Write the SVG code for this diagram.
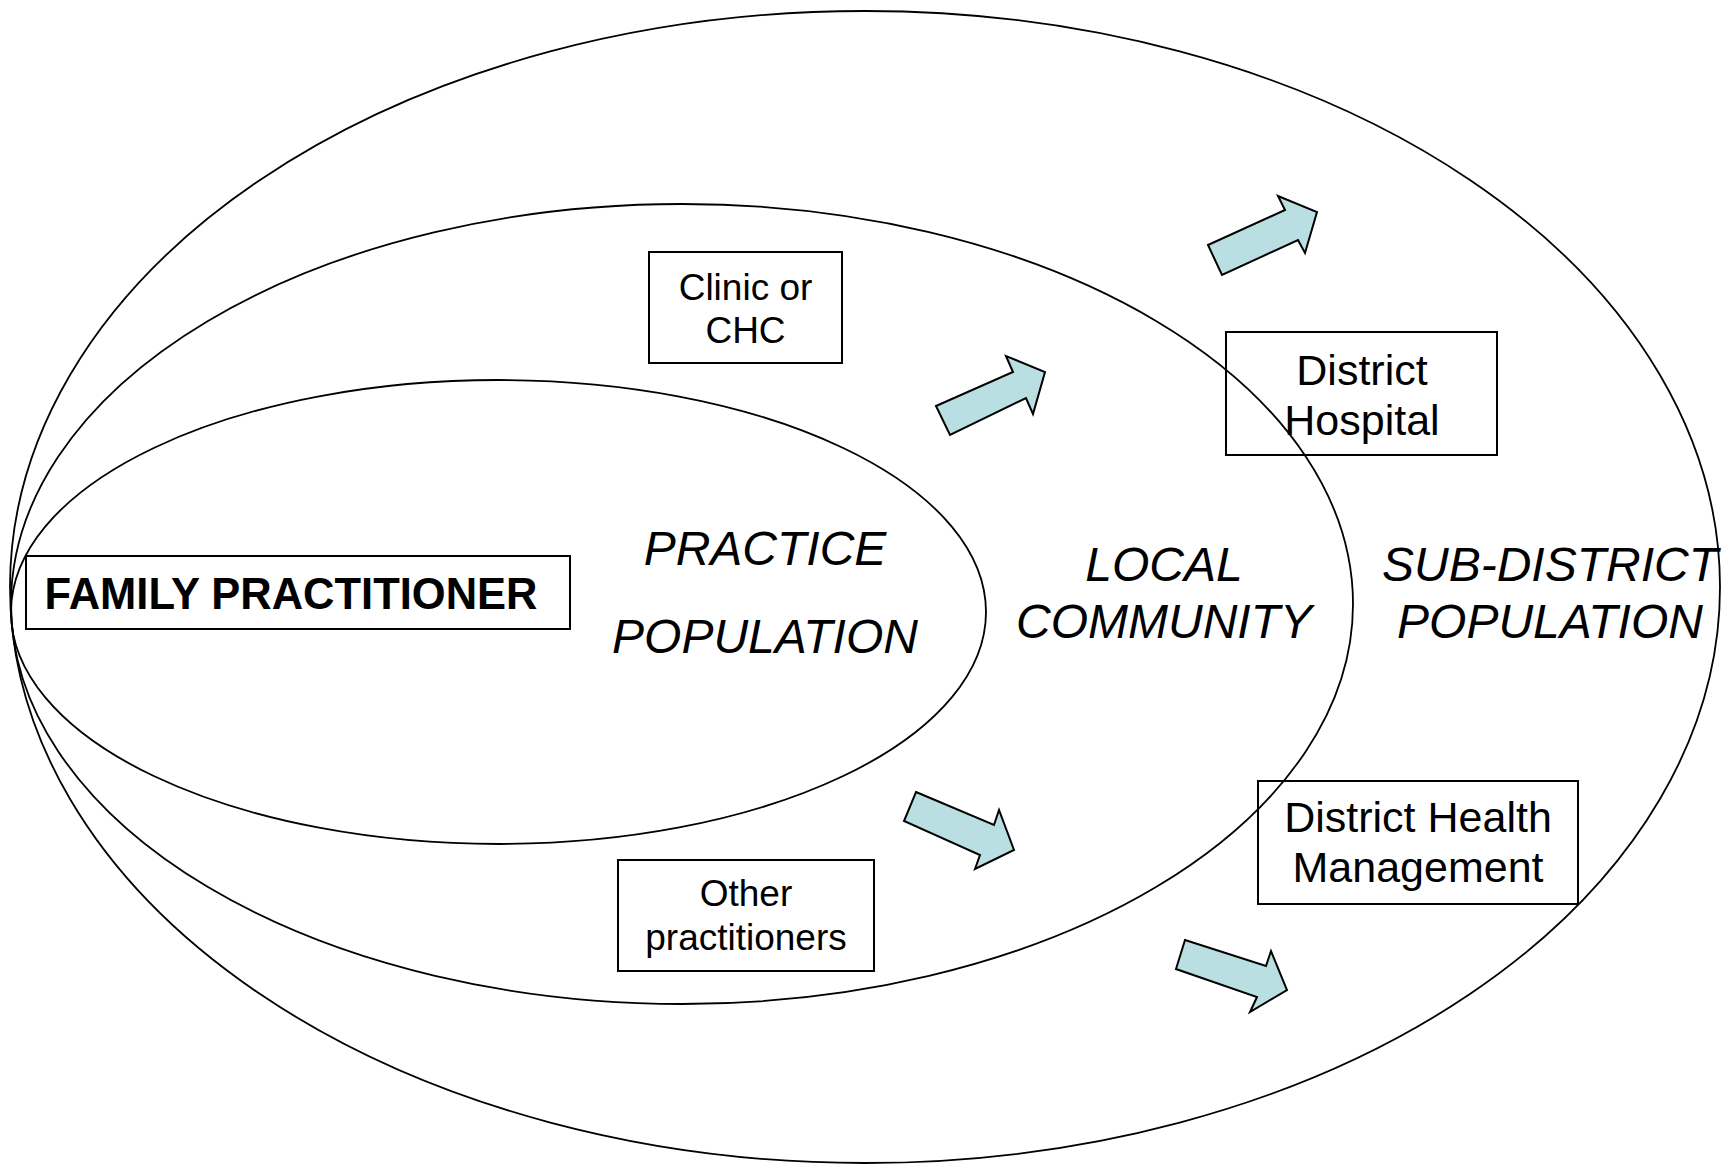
<svg xmlns="http://www.w3.org/2000/svg" width="1729" height="1168" viewBox="0 0 1729 1168">
<style>
.ring{fill:none;stroke:#000;stroke-width:1.8}
.box{fill:none;stroke:#000;stroke-width:2}
.t{font-family:"Liberation Sans",Arial,sans-serif;fill:#000;text-anchor:middle}
.big{font-size:48px;font-style:italic}
.bx{font-size:37px}
.bx2{font-size:43px}
.arr{fill:#B9DFE2;stroke:#000;stroke-width:2;stroke-linejoin:miter}
</style>
<rect width="1729" height="1168" fill="#fff"/>
<g id="sub-district-population">
<ellipse class="ring" cx="865" cy="587" rx="855" ry="576"/>
<text class="t big" x="1550" y="581">SUB-DISTRICT</text>
<text class="t big" x="1550" y="638">POPULATION</text>
</g>
<g id="local-community">
<ellipse class="ring" cx="682" cy="604" rx="671" ry="400"/>
<text class="t big" x="1164" y="581">LOCAL</text>
<text class="t big" x="1164" y="638">COMMUNITY</text>
</g>
<g id="practice-population">
<ellipse class="ring" cx="498.5" cy="612" rx="487.5" ry="232"/>
<text class="t big" x="765" y="565">PRACTICE</text>
<text class="t big" x="765" y="653">POPULATION</text>
</g>
<g id="family-practitioner">
<rect class="box" x="26" y="556" width="544" height="73"/>
<text class="t" x="291" y="609" style="font-size:43.5px;font-weight:bold">FAMILY PRACTITIONER</text>
</g>
<g id="clinic-chc">
<rect class="box" x="649" y="252" width="193" height="111"/>
<text class="t bx" x="745.5" y="300">Clinic or</text>
<text class="t bx" x="745.5" y="343">CHC</text>
</g>
<g id="other-practitioners">
<rect class="box" x="618" y="860" width="256" height="111"/>
<text class="t bx" x="746" y="906">Other</text>
<text class="t bx" x="746" y="950">practitioners</text>
</g>
<g id="district-hospital">
<rect class="box" x="1226" y="332" width="271" height="123"/>
<text class="t bx2" x="1362" y="385">District</text>
<text class="t bx2" x="1362" y="435">Hospital</text>
</g>
<g id="district-health-management">
<rect class="box" x="1258" y="781" width="320" height="123"/>
<text class="t bx2" x="1418" y="832">District Health</text>
<text class="t bx2" x="1418" y="882">Management</text>
</g>
<g id="connectors">
<polygon class="arr" points="936,406 1013,372 1006,356 1045,372 1033,414 1026,398 950,435"/>
<polygon class="arr" points="1208,245 1285,210 1278,196 1317,212 1305,253 1298,240 1222,275"/>
<polygon class="arr" points="916,792 994,825 999,810 1014,850 975,869 980,855 904,821"/>
<polygon class="arr" points="1185,940 1266,966 1271,951 1287,990 1250,1012 1257,997 1176,969"/>
</g>
</svg>
